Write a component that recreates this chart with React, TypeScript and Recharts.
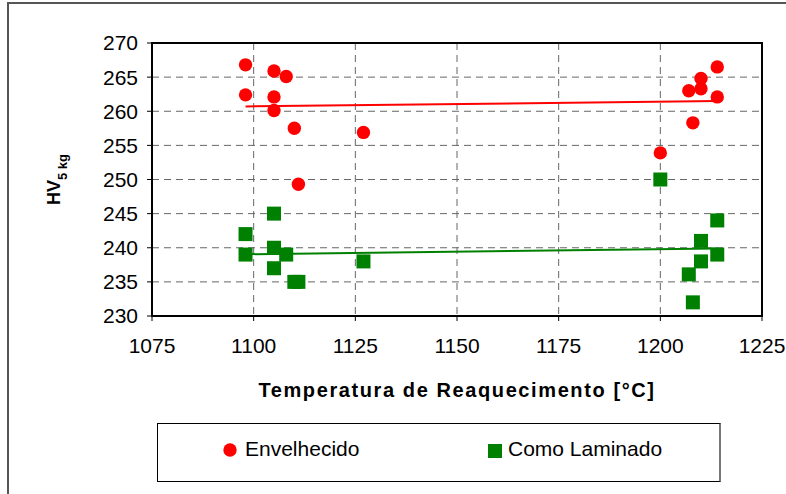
import React from 'react';
import {
  ScatterChart,
  Scatter,
  XAxis,
  YAxis,
  CartesianGrid,
  ReferenceLine,
  ReferenceArea,
} from 'recharts';

// ─── Data ─────────────────────────────────────────────────────────────────────

const envelhecidoTemp = [1098, 1098, 1105, 1105, 1105, 1108, 1110, 1111, 1127, 1200, 1207, 1208, 1210, 1210, 1214, 1214];
const envelhecidoHV = [266.8, 262.4, 265.9, 262.1, 260.1, 265.1, 257.5, 249.3, 256.9, 253.9, 263.0, 258.3, 264.8, 263.3, 266.5, 262.1];

const laminadoTemp = [1098, 1098, 1105, 1105, 1105, 1108, 1110, 1111, 1127, 1200, 1207, 1208, 1210, 1210, 1214, 1214];
const laminadoHV = [242, 239, 245, 240, 237, 239, 235, 235, 238, 250, 236.1, 232, 241, 238, 244, 239];

// linear trend lines (end points)
const envelhecidoTrend = [{ x: 1098, y: 260.7 }, { x: 1214, y: 261.5 }];
const laminadoTrend = [{ x: 1098, y: 239.05 }, { x: 1214, y: 239.9 }];

const xTicks = [1075, 1100, 1125, 1150, 1175, 1200, 1225];
const yTicks = [230, 235, 240, 245, 250, 255, 260, 265, 270];

const SERIES_A = 'Envelhecido';
const SERIES_B = 'Como Laminado';
const RED = '#FF0000';
const GREEN = '#008000';
const FONT = "Arial, 'Liberation Sans', sans-serif";

const envelhecido = envelhecidoTemp.map((t, i) => ({ temp: t, hv: envelhecidoHV[i] }));
const laminado = laminadoTemp.map((t, i) => ({ temp: t, hv: laminadoHV[i] }));

// ─── Shapes ───────────────────────────────────────────────────────────────────

const Dot = (p: any) => <circle cx={p.cx} cy={p.cy} r={6.7} fill={RED} />;
const Square = (p: any) => <rect x={p.cx - 7} y={p.cy - 7} width={14} height={14} fill={GREEN} />;

function XLabel({ viewBox }: any) {
  return (
    <text
      x={viewBox.x + viewBox.width / 2}
      y={viewBox.y + 81}
      textAnchor="middle"
      fontFamily={FONT}
      fontWeight="bold"
      fontSize={20}
      letterSpacing={1.6}
      fill="#000"
    >
      Temperatura de Reaquecimento [°C]
    </text>
  );
}

function YLabel({ viewBox }: any) {
  const cx = 60;
  const cy = viewBox.y + viewBox.height / 2;
  return (
    <text
      x={cx}
      y={cy}
      transform={`rotate(-90 ${cx} ${cy})`}
      textAnchor="middle"
      fontFamily={FONT}
      fontWeight="bold"
      fill="#000"
    >
      <tspan fontSize={18}>HV</tspan>
      <tspan fontSize={13} dy={7}>5 kg</tspan>
    </text>
  );
}

// ─── Component ────────────────────────────────────────────────────────────────

export default function App() {
  const tickStyle = { fill: '#000', fontSize: 21, fontFamily: FONT };
  return (
    <div style={{ position: 'absolute', left: 0, top: 0, width: 786, height: 494, overflow: 'hidden', background: '#fff' }}>
      <div style={{ position: 'absolute', left: 7, top: 2, width: 800, height: 600, border: '2px solid #555' }} />
      <div style={{ position: 'absolute', left: 0, top: 0 }}>
        <ScatterChart width={786} height={494} margin={{ top: 43, right: 24, left: 92, bottom: 138 }}>
          <CartesianGrid stroke="#666" strokeDasharray="7 5" strokeWidth={1} />
          <XAxis
            type="number"
            dataKey="temp"
            domain={[1075, 1225]}
            ticks={xTicks}
            allowDataOverflow
            height={40}
            tick={tickStyle}
            tickSize={5}
            tickMargin={17}
            axisLine={{ stroke: '#000', strokeWidth: 2 }}
            tickLine={{ stroke: '#000', strokeWidth: 1 }}
            label={<XLabel />}
          />
          <YAxis
            type="number"
            dataKey="hv"
            domain={[230, 270]}
            ticks={yTicks}
            allowDataOverflow
            width={60}
            tick={tickStyle}
            tickSize={5}
            tickMargin={9}
            axisLine={{ stroke: '#000', strokeWidth: 2 }}
            tickLine={{ stroke: '#000', strokeWidth: 1 }}
            label={<YLabel />}
          />
          <ReferenceArea x1={1075} x2={1225} y1={230} y2={270} fill="none" stroke="#000" strokeWidth={2} fillOpacity={0} />
          <ReferenceLine segment={envelhecidoTrend} stroke={RED} strokeWidth={2} />
          <ReferenceLine segment={laminadoTrend} stroke={GREEN} strokeWidth={2} />
          <Scatter name={SERIES_A} data={envelhecido} shape={Dot} isAnimationActive={false} />
          <Scatter name={SERIES_B} data={laminado} shape={Square} isAnimationActive={false} />
        </ScatterChart>
      </div>
      <div
        style={{
          position: 'absolute',
          left: 157,
          top: 423,
          width: 561,
          height: 57,
          border: '1px solid #000',
          borderRightColor: '#777',
          borderRightWidth: 2,
          fontFamily: FONT,
          fontSize: 21,
          color: '#000',
        }}
      >
        <svg width={14} height={14} style={{ position: 'absolute', left: 65, top: 19 }}>
          <circle cx={7} cy={7} r={6.7} fill={RED} />
        </svg>
        <span style={{ position: 'absolute', left: 87, top: 13, lineHeight: '24px' }}>{SERIES_A}</span>
        <svg width={14} height={14} style={{ position: 'absolute', left: 330, top: 20 }}>
          <rect x={0} y={0} width={14} height={14} fill={GREEN} />
        </svg>
        <span style={{ position: 'absolute', left: 350, top: 13, lineHeight: '24px' }}>{SERIES_B}</span>
      </div>
    </div>
  );
}
